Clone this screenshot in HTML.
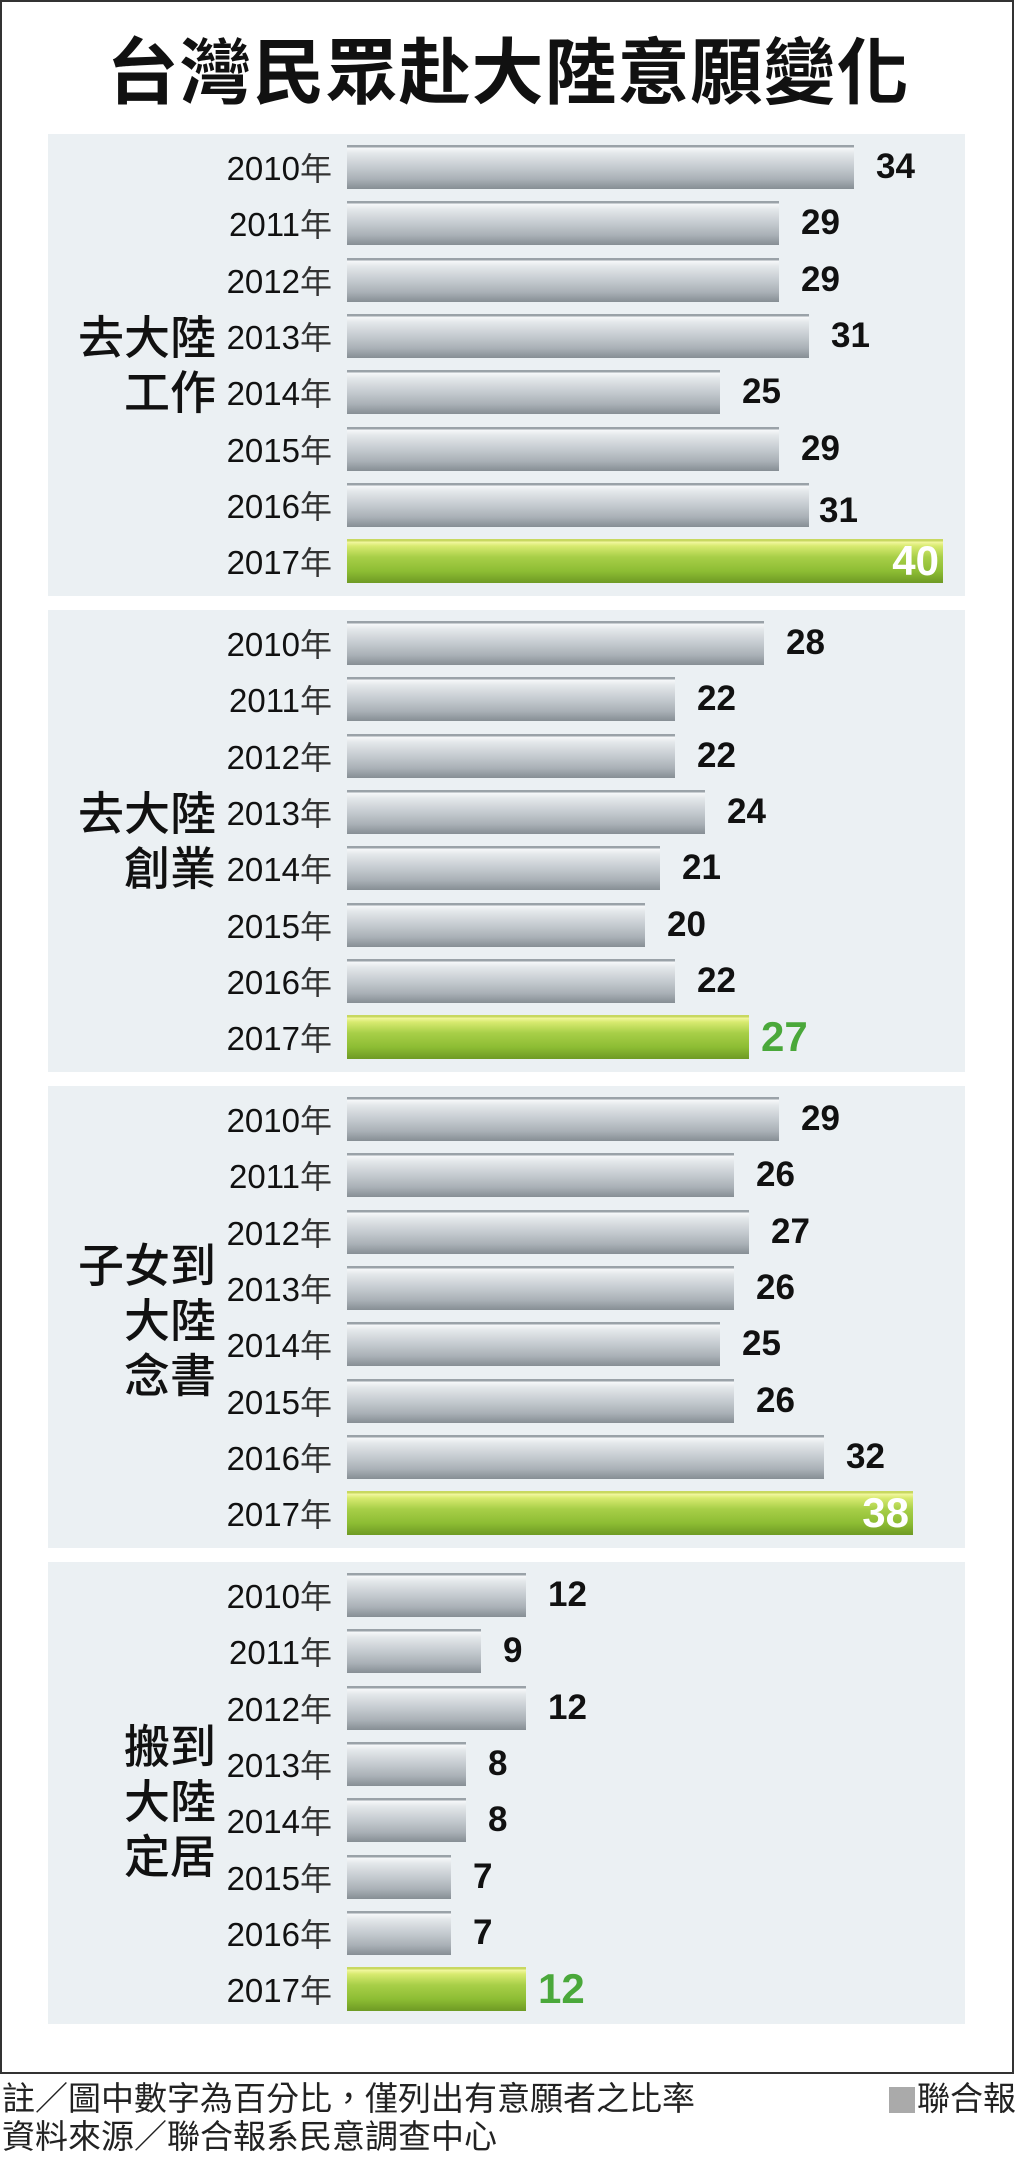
<!DOCTYPE html>
<html><head><meta charset="utf-8">
<style>
*{margin:0;padding:0;box-sizing:border-box}
body{width:1016px;height:2152px;background:#fff;position:relative;overflow:hidden;font-family:"Liberation Sans","Noto Sans CJK TC",sans-serif}
.frame{position:absolute;left:0;top:0;width:1014px;height:2074px;border:2px solid #333}
.title{position:absolute;left:0;width:1016px;top:22px;text-align:center;font-size:72px;font-weight:bold;letter-spacing:1px;color:#111;line-height:90px;font-family:"Noto Sans CJK TC","WenQuanYi Zen Hei",sans-serif}
.p{position:absolute;left:48px;width:917px;height:462px;background:#ebf0f3}
.row{position:absolute;left:0;width:100%;height:44px}
.yr{position:absolute;left:0;width:284px;text-align:right;line-height:44px;font-size:33px;color:#111;font-family:"Liberation Sans Narrow","Liberation Sans","Noto Sans CJK TC",sans-serif}
.yr span{font-family:"Noto Sans CJK TC",sans-serif;font-size:32px;color:#333}
.b{position:absolute;left:299px;top:0;height:44px;background:linear-gradient(#9aa2a8 0,#9aa2a8 2px,#f6f8f9 3px,#e4e8eb 8px,#c5cbd0 22px,#aab1b7 34px,#868e94 44px)}
.g{background:linear-gradient(#c8d860 0,#c8d860 2px,#f2f7a0 3px,#d8ea70 7px,#a8cf48 18px,#8dbd34 32px,#6e9a24 44px)}
.v{position:absolute;left:100%;margin-left:22px;top:0;line-height:44px;font-size:35px;font-weight:bold;color:#111}
.vw{position:absolute;right:4px;top:0;line-height:44px;font-size:42px;font-weight:bold;color:#fff}
.vg{color:#4aa83a;font-size:42px;margin-left:12px}
.cat{position:absolute;left:0;width:168px;text-align:right;font-size:46px;line-height:55px;color:#111;font-family:"Noto Sans CJK TC",sans-serif;font-weight:500}
.foot{position:absolute;left:2px;font-size:33px;color:#222;font-family:"Noto Sans CJK TC",sans-serif;line-height:36px}
</style></head><body>
<div class="frame"></div>
<div class="title">台灣民眾赴大陸意願變化</div>

<div class="p" style="top:134px">
<div class="cat" style="top:174px">去大陸<br>工作</div>
<div class="row" style="top:11px"><div class="yr">2010<span>年</span></div><div class="b" style="width:507px"><div class="v">34</div></div></div>
<div class="row" style="top:67px"><div class="yr">2011<span>年</span></div><div class="b" style="width:432px"><div class="v">29</div></div></div>
<div class="row" style="top:124px"><div class="yr">2012<span>年</span></div><div class="b" style="width:432px"><div class="v">29</div></div></div>
<div class="row" style="top:180px"><div class="yr">2013<span>年</span></div><div class="b" style="width:462px"><div class="v">31</div></div></div>
<div class="row" style="top:236px"><div class="yr">2014<span>年</span></div><div class="b" style="width:373px"><div class="v">25</div></div></div>
<div class="row" style="top:293px"><div class="yr">2015<span>年</span></div><div class="b" style="width:432px"><div class="v">29</div></div></div>
<div class="row" style="top:349px"><div class="yr">2016<span>年</span></div><div class="b" style="width:462px"><div class="v" style="margin-left:10px;top:6px">31</div></div></div>
<div class="row" style="top:405px"><div class="yr">2017<span>年</span></div><div class="b g" style="width:596px"><div class="vw">40</div></div></div>
</div>

<div class="p" style="top:610px">
<div class="cat" style="top:174px">去大陸<br>創業</div>
<div class="row" style="top:11px"><div class="yr">2010<span>年</span></div><div class="b" style="width:417px"><div class="v">28</div></div></div>
<div class="row" style="top:67px"><div class="yr">2011<span>年</span></div><div class="b" style="width:328px"><div class="v">22</div></div></div>
<div class="row" style="top:124px"><div class="yr">2012<span>年</span></div><div class="b" style="width:328px"><div class="v">22</div></div></div>
<div class="row" style="top:180px"><div class="yr">2013<span>年</span></div><div class="b" style="width:358px"><div class="v">24</div></div></div>
<div class="row" style="top:236px"><div class="yr">2014<span>年</span></div><div class="b" style="width:313px"><div class="v">21</div></div></div>
<div class="row" style="top:293px"><div class="yr">2015<span>年</span></div><div class="b" style="width:298px"><div class="v">20</div></div></div>
<div class="row" style="top:349px"><div class="yr">2016<span>年</span></div><div class="b" style="width:328px"><div class="v">22</div></div></div>
<div class="row" style="top:405px"><div class="yr">2017<span>年</span></div><div class="b g" style="width:402px"><div class="v vg">27</div></div></div>
</div>

<div class="p" style="top:1086px">
<div class="cat" style="top:150px">子女到<br>大陸<br>念書</div>
<div class="row" style="top:11px"><div class="yr">2010<span>年</span></div><div class="b" style="width:432px"><div class="v">29</div></div></div>
<div class="row" style="top:67px"><div class="yr">2011<span>年</span></div><div class="b" style="width:387px"><div class="v">26</div></div></div>
<div class="row" style="top:124px"><div class="yr">2012<span>年</span></div><div class="b" style="width:402px"><div class="v">27</div></div></div>
<div class="row" style="top:180px"><div class="yr">2013<span>年</span></div><div class="b" style="width:387px"><div class="v">26</div></div></div>
<div class="row" style="top:236px"><div class="yr">2014<span>年</span></div><div class="b" style="width:373px"><div class="v">25</div></div></div>
<div class="row" style="top:293px"><div class="yr">2015<span>年</span></div><div class="b" style="width:387px"><div class="v">26</div></div></div>
<div class="row" style="top:349px"><div class="yr">2016<span>年</span></div><div class="b" style="width:477px"><div class="v">32</div></div></div>
<div class="row" style="top:405px"><div class="yr">2017<span>年</span></div><div class="b g" style="width:566px"><div class="vw">38</div></div></div>
</div>

<div class="p" style="top:1562px">
<div class="cat" style="top:155px">搬到<br>大陸<br>定居</div>
<div class="row" style="top:11px"><div class="yr">2010<span>年</span></div><div class="b" style="width:179px"><div class="v">12</div></div></div>
<div class="row" style="top:67px"><div class="yr">2011<span>年</span></div><div class="b" style="width:134px"><div class="v">9</div></div></div>
<div class="row" style="top:124px"><div class="yr">2012<span>年</span></div><div class="b" style="width:179px"><div class="v">12</div></div></div>
<div class="row" style="top:180px"><div class="yr">2013<span>年</span></div><div class="b" style="width:119px"><div class="v">8</div></div></div>
<div class="row" style="top:236px"><div class="yr">2014<span>年</span></div><div class="b" style="width:119px"><div class="v">8</div></div></div>
<div class="row" style="top:293px"><div class="yr">2015<span>年</span></div><div class="b" style="width:104px"><div class="v">7</div></div></div>
<div class="row" style="top:349px"><div class="yr">2016<span>年</span></div><div class="b" style="width:104px"><div class="v">7</div></div></div>
<div class="row" style="top:405px"><div class="yr">2017<span>年</span></div><div class="b g" style="width:179px"><div class="v vg">12</div></div></div>
</div>

<div class="foot" style="top:2078px">註／圖中數字為百分比，僅列出有意願者之比率</div>
<div class="foot" style="top:2116px">資料來源／聯合報系民意調查中心</div>
<div class="foot" style="top:2078px;left:auto;right:0"><span style="display:inline-block;width:26px;height:26px;background:#aaa;vertical-align:-3px;margin-right:2px"></span>聯合報</div>
</body></html>
